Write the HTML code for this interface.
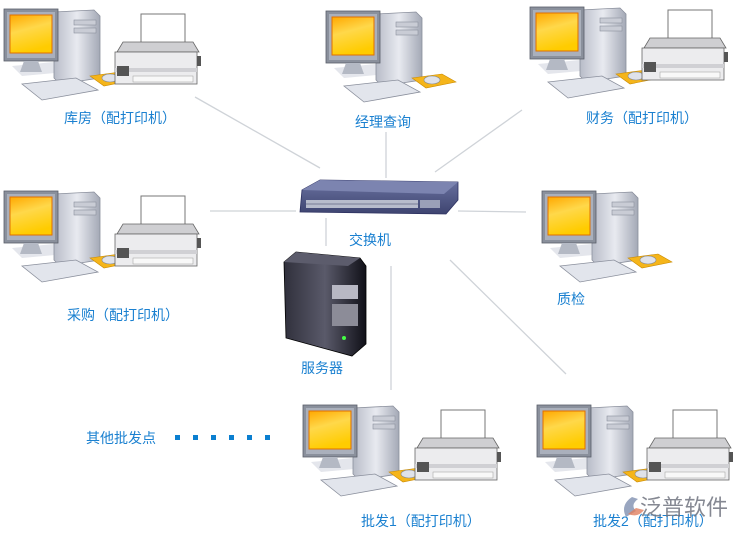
<!DOCTYPE html>
<html><head><meta charset="utf-8"><style>
html,body{margin:0;padding:0;background:#fff;}
body{width:744px;height:536px;overflow:hidden;position:relative;}
svg{position:absolute;left:0;top:0;}
.l{font-family:"Liberation Sans","Noto Sans CJK SC",sans-serif;font-size:14px;fill:#1a80d0;}
</style></head><body>
<svg width="744" height="536" viewBox="0 0 744 536">
<defs>
<linearGradient id="scr" x1="0" y1="0" x2="0.3" y2="1"><stop offset="0" stop-color="#ffa800"/><stop offset="0.45" stop-color="#ffd84a"/><stop offset="1" stop-color="#ffcc00"/></linearGradient>
<linearGradient id="tw" x1="0" y1="0" x2="1" y2="0"><stop offset="0" stop-color="#b8bcc8"/><stop offset="0.5" stop-color="#e8eaf0"/><stop offset="1" stop-color="#a4a9b6"/></linearGradient>
<linearGradient id="sv" x1="0" y1="0" x2="1" y2="0"><stop offset="0" stop-color="#30303c"/><stop offset="0.5" stop-color="#5a5a6a"/><stop offset="1" stop-color="#101018"/></linearGradient>
<linearGradient id="sw" x1="0" y1="0" x2="0" y2="1"><stop offset="0" stop-color="#6a72a0"/><stop offset="1" stop-color="#3e4470"/></linearGradient>
<g id="pc">
<polygon points="8,60 50,56 62,66 18,70" fill="#e4e6ec"/>
<polygon points="50,6 90,4 96,10 96,72 56,78 50,72" fill="url(#tw)" stroke="#8a8f9c" stroke-width="0.8"/>
<rect x="70" y="14" width="22" height="5" fill="#c9ccd5" stroke="#8a8f9c" stroke-width="0.6"/>
<rect x="70" y="22" width="22" height="5" fill="#c9ccd5" stroke="#8a8f9c" stroke-width="0.6"/>
<rect x="0" y="3" width="54" height="52" fill="#8a909c" stroke="#5a5f6a" stroke-width="0.8"/>
<rect x="3" y="6" width="48" height="46" fill="#aab0bc"/>
<rect x="6" y="9" width="42" height="38" fill="url(#scr)" stroke="#e07000" stroke-width="1"/>
<polygon points="20,55 34,55 38,66 16,66" fill="#b4b9c4"/>
<polygon points="18,78 72,72 94,84 38,94" fill="#e2e5ec" stroke="#8a8f9c" stroke-width="0.8"/>
<polygon points="86,70 116,66 130,74 100,80" fill="#f5b51a" stroke="#c98a00" stroke-width="0.6"/>
<ellipse cx="106" cy="72" rx="8" ry="4" fill="#dfe2ea" stroke="#888" stroke-width="0.6"/>
</g>
<g id="pr">
<rect x="28" y="0" width="44" height="36" fill="#fff" stroke="#777" stroke-width="1"/>
<polygon points="10,28 80,28 86,38 4,38" fill="#cfcfd2" stroke="#666" stroke-width="0.8"/>
<rect x="2" y="38" width="82" height="32" fill="#ececee" stroke="#666" stroke-width="0.8"/>
<rect x="2" y="54" width="82" height="4" fill="#d0d0d4"/>
<rect x="4" y="52" width="12" height="10" fill="#555"/>
<rect x="84" y="42" width="4" height="10" fill="#555"/>
<rect x="20" y="62" width="60" height="6" fill="#f8f8f8" stroke="#999" stroke-width="0.5"/>
</g>
</defs>
<g stroke="#cfd3d8" stroke-width="1.3" fill="none">
<line x1="195" y1="97" x2="320" y2="168"/>
<line x1="386" y1="132" x2="386" y2="178"/>
<line x1="435" y1="172" x2="522" y2="110"/>
<line x1="210" y1="211" x2="296" y2="211"/>
<line x1="458" y1="211" x2="526" y2="212"/>
<line x1="326" y1="218" x2="326" y2="246"/>
<line x1="391" y1="266" x2="391" y2="390"/>
<line x1="450" y1="260" x2="566" y2="374"/>
</g>
<use href="#pc" x="4" y="6"/><use href="#pr" x="113" y="14"/>
<use href="#pc" x="326" y="8"/>
<use href="#pc" x="530" y="4"/><use href="#pr" x="640" y="10"/>
<use href="#pc" x="4" y="188"/><use href="#pr" x="113" y="196"/>
<use href="#pc" x="542" y="188"/>
<use href="#pc" x="303" y="402"/><use href="#pr" x="413" y="410"/>
<use href="#pc" x="537" y="402"/><use href="#pr" x="645" y="410"/>
<polygon points="302,190 320,180 458,182 458,200 446,214 300,212" fill="url(#sw)" stroke="#2c3060" stroke-width="0.8"/>
<polygon points="302,190 320,180 458,182 444,194" fill="#7c84b0"/>
<rect x="306" y="200" width="112" height="8" fill="#b8bccc"/>
<rect x="420" y="200" width="20" height="8" fill="#9aa0b8"/>
<g stroke="#3a3e60" stroke-width="0.6"><line x1="306" y1="204" x2="418" y2="204"/></g>
<polygon points="284,262 296,252 360,258 366,266 366,344 352,356 286,338" fill="url(#sv)" stroke="#000" stroke-width="0.8"/>
<polygon points="284,262 296,252 360,258 348,266" fill="#5c5c6c"/>
<rect x="332" y="285" width="26" height="14" fill="#b8b8c4"/>
<rect x="332" y="304" width="26" height="22" fill="#8c8c98"/>
<circle cx="344" cy="338" r="2" fill="#4f4"/>
<g fill="#0b7fd0"><rect x="175" y="435" width="5" height="5"/><rect x="193" y="435" width="5" height="5"/><rect x="211" y="435" width="5" height="5"/><rect x="229" y="435" width="5" height="5"/><rect x="247" y="435" width="5" height="5"/><rect x="265" y="435" width="5" height="5"/></g>
<text class="l" x="64" y="123">库房（配打印机）</text>
<text class="l" x="355" y="127">经理查询</text>
<text class="l" x="586" y="123">财务（配打印机）</text>
<text class="l" x="67" y="320">采购（配打印机）</text>
<text class="l" x="557" y="304">质检</text>
<text class="l" x="349" y="245">交换机</text>
<text class="l" x="301" y="373">服务器</text>
<text class="l" x="86" y="443">其他批发点</text>
<text class="l" x="361" y="526">批发1（配打印机）</text>
<text class="l" x="593" y="526">批发2（配打印机）</text>
<path d="M632,497 q-12,8 -6,20 l10,-6 q-6,-6 2,-12z" fill="#8090b0" opacity="0.8"/>
<path d="M628,514 q10,4 16,-4 l-8,-2z" fill="#e08060" opacity="0.8"/>
<text x="640" y="515" font-family="Liberation Sans,Noto Sans CJK SC,sans-serif" font-size="22" fill="#707480" opacity="0.85">泛普软件</text>
</svg>
</body></html>
